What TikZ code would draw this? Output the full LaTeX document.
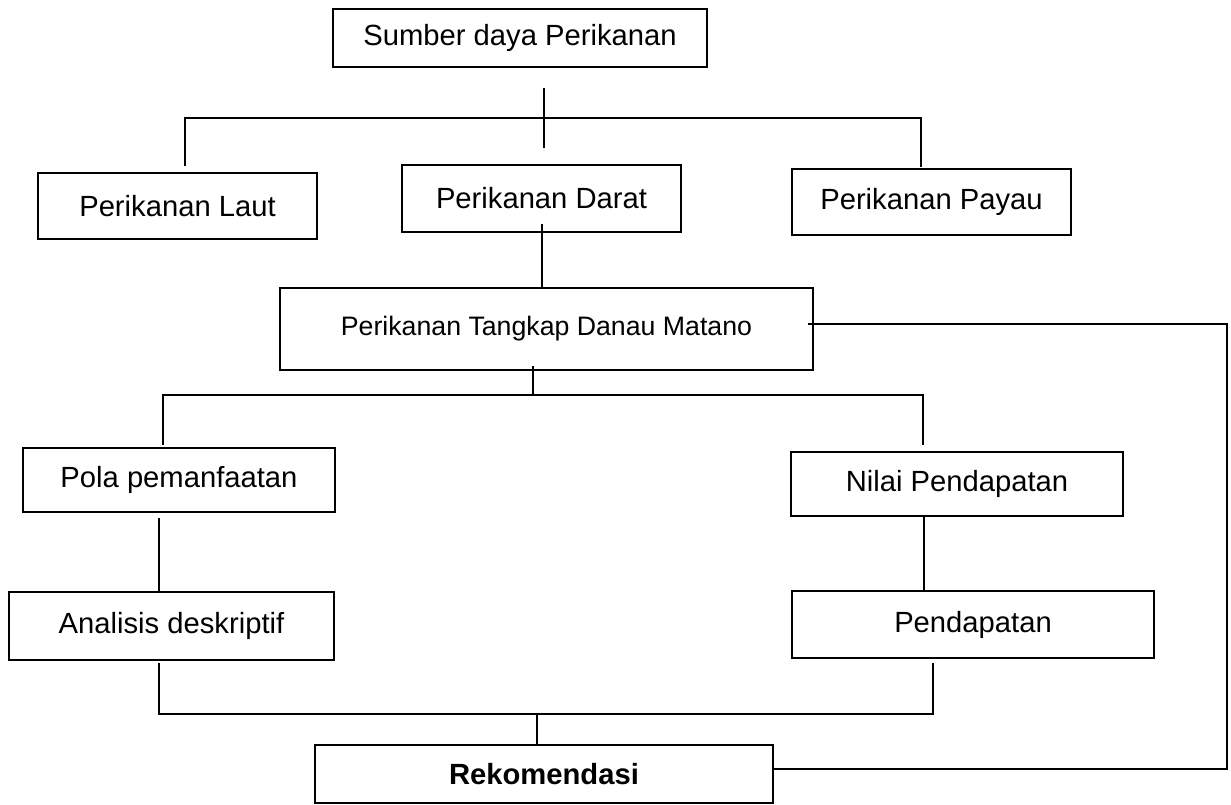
\documentclass[tikz,border=0pt]{standalone}
\usepackage{fontspec}
\setmainfont{Liberation Sans}
\begin{document}
\begin{tikzpicture}[x=1pt,y=-1pt,
  box/.style={draw, line width=1.8pt, inner sep=0pt, font=\fontsize{29.2}{35}\selectfont},
  conn/.style={line width=2.6pt}]
\useasboundingbox[fill=white] (0,0) rectangle (1231,805);
% boxes
\node[box, minimum width=374pt, minimum height=58pt] (sumber) at (520,38) {Sumber daya Perikanan};
\node[box, minimum width=279pt, minimum height=66pt] (laut) at (177.5,206) {Perikanan Laut};
\node[box, minimum width=279pt, minimum height=67pt] (darat) at (541.5,198.5) {Perikanan Darat};
\node[box, minimum width=279pt, minimum height=66pt] (payau) at (931.5,202) {Perikanan Payau};
\node[box, minimum width=533pt, minimum height=82pt, font=\fontsize{26.7}{32}\selectfont] (tangkap) at (546.5,329) {Perikanan Tangkap Danau Matano};
\node[box, minimum width=312pt, minimum height=64pt] (pola) at (179,480) {Pola pemanfaatan};
\node[box, minimum width=325pt, minimum height=68pt] (analisis) at (171.5,626) {Analisis deskriptif};
\node[box, minimum width=332pt, minimum height=64pt] (nilai) at (957,484) {Nilai Pendapatan};
\node[box, minimum width=362pt, minimum height=67pt] (pendapatan) at (973,624.5) {Pendapatan};
\node[box, minimum width=458pt, minimum height=58pt, font=\fontsize{29.2}{35}\selectfont\bfseries] (rekom) at (544,774) {Rekomendasi};
% top bus
\coordinate (s1) at (544,88);
\coordinate (s2) at (544,148);
\coordinate (busL) at (185,118);
\coordinate (busR) at (921,118);
\draw[conn] (s1) -- (s2);
\draw[conn] (laut.north -| busL) ++(0,-6) -- (busL) -- (busR) -- ([yshift=1pt]busR |- payau.north);
% darat to tangkap
\coordinate (d1) at (542,224);
\draw[conn] (d1) -- (d1 |- tangkap.north);
% tangkap to second bus
\coordinate (t2) at (533,366);
\coordinate (b2) at (533,395);
\coordinate (b2L) at (163,395);
\coordinate (b2R) at (923,395);
\coordinate (pL) at (163,445);
\coordinate (nR) at (923,445);
\draw[conn] (t2) -- (b2);
\draw[conn] (pL) -- (b2L) -- (b2R) -- (nR);
% vertical links
\coordinate (pa) at (159,518);
\draw[conn] (pa) -- (pa |- analisis.north);
\coordinate (np) at (924,516);
\draw[conn] (np) -- (np |- pendapatan.north);
% bottom bus
\coordinate (a1) at (159,663);
\coordinate (a2) at (159,714);
\coordinate (p1) at (933,663);
\coordinate (p2) at (933,714);
\coordinate (m1) at (537,714);
\draw[conn] (a1) -- (a2) -- (p2) -- (p1);
\draw[conn] (m1) -- (m1 |- rekom.north);
% feedback loop
\coordinate (t1) at (808,324);
\coordinate (r1) at (1227,324);
\coordinate (r2) at (1227,769);
\draw[conn] (t1) -- (r1) -- (r2) -- (r2 -| rekom.east);
\end{tikzpicture}
\end{document}
